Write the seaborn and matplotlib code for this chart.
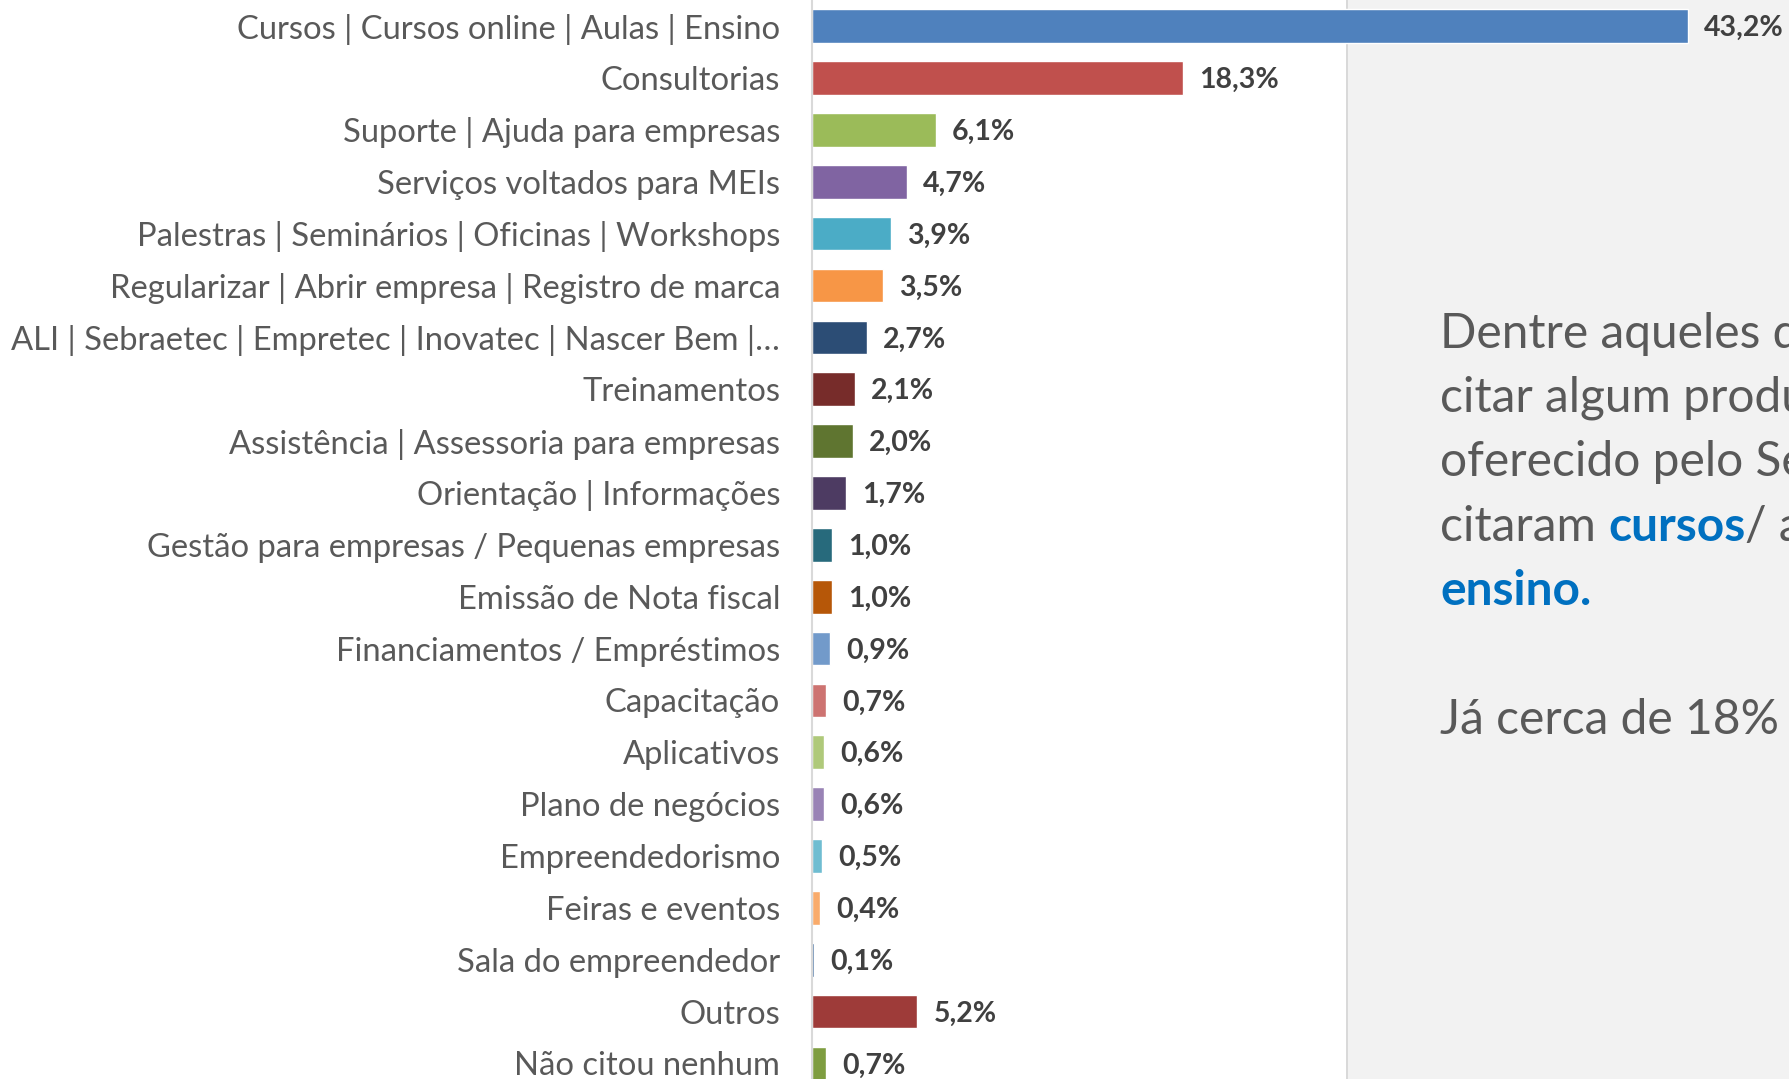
import matplotlib
matplotlib.use("Agg")
import matplotlib.pyplot as plt
import seaborn as sns
import pandas as pd
from matplotlib.patches import Rectangle

# data
categories = [
    "Cursos | Cursos online | Aulas | Ensino",
    "Consultorias",
    "Suporte | Ajuda para empresas",
    "Serviços voltados para MEIs",
    "Palestras | Seminários | Oficinas | Workshops",
    "Regularizar | Abrir empresa | Registro de marca",
    "ALI | Sebraetec | Empretec | Inovatec | Nascer Bem |…",
    "Treinamentos",
    "Assistência | Assessoria para empresas",
    "Orientação | Informações",
    "Gestão para empresas / Pequenas empresas",
    "Emissão de Nota fiscal",
    "Financiamentos / Empréstimos",
    "Capacitação",
    "Aplicativos",
    "Plano de negócios",
    "Empreendedorismo",
    "Feiras e eventos",
    "Sala do empreendedor",
    "Outros",
    "Não citou nenhum",
]
values = [43.2, 18.3, 6.1, 4.7, 3.9, 3.5, 2.7, 2.1, 2.0, 1.7, 1.0, 1.0,
          0.9, 0.7, 0.6, 0.6, 0.5, 0.4, 0.1, 5.2, 0.7]
colors = ["#4F81BD", "#C0504D", "#9BBB59", "#8064A2", "#4BACC6", "#F79646",
          "#2C4D75", "#772C2A", "#5F7530", "#4D3B62", "#276A7C", "#B65708",
          "#729ACA", "#CD7371", "#AFC97A", "#9983B5", "#6FBDD1", "#F9AB6B",
          "#3A679C", "#9E3B39", "#7E9D40"]

sns.set_style("white")
plt.rcParams['font.family'] = ['Lato', 'DejaVu Sans']

df = pd.DataFrame({"cat": categories, "val": values})

W, H = 1789, 1079
fig = plt.figure(figsize=(W / 100, H / 100), dpi=100)
fig.patch.set_facecolor("white")

# grey side panel behind the chart
fig.add_artist(Rectangle((1346 / W, 0), 1 - 1346 / W, 1, transform=fig.transFigure,
                         facecolor="#F2F2F2", edgecolor="none", zorder=-2))
fig.add_artist(Rectangle((1346 / W, 0), 2 / W, 1, transform=fig.transFigure,
                         facecolor="#D9D9D9", edgecolor="none", zorder=-1))

row = 51.86
top = 26.2 - row / 2
ax = fig.add_axes([812 / W, 1 - (top + 21 * row) / H, 1 - 812 / W, 21 * row / H])
ax.patch.set_visible(False)

sns.barplot(data=df, y="cat", x="val", hue="cat", palette=colors, legend=False,
            orient="h", width=0.65, saturation=1, ax=ax)

px_per_unit = (1688 - 812) / 43.2
ax.set_xlim(0, (W - 812) / px_per_unit)
ax.set_ylim(20.5, -0.5)

for i, v in enumerate(values):
    ax.annotate(f"{v:.1f}".replace(".", ",") + "%", (v, i), xytext=(11.5, -1.5),
                textcoords="offset points", va="center", ha="left",
                fontsize=20.5, fontweight="bold", color="#404040")

ax.set_xlabel("")
ax.set_ylabel("")
ax.set_xticks([])
ax.tick_params(axis="y", length=0, pad=23, labelsize=23.6, labelcolor="#595959")
for s in ["top", "right", "bottom"]:
    ax.spines[s].set_visible(False)
ax.spines["left"].set_color("#D9D9D9")
ax.spines["left"].set_linewidth(1.5)

# side commentary (runs off the right edge as in the original)
grey = "#595959"
blue = "#0070C0"
fs = 34.5
x0 = 1440
lines = [
    [("Dentre aqueles que conseguiram", grey, "normal")],
    [("citar algum produto ou serviço", grey, "normal")],
    [("oferecido pelo Sebrae, 43%", grey, "normal")],
    [("citaram ", grey, "normal"), ("cursos", blue, "bold"), ("/ aulas/", grey, "normal")],
    [("ensino.", blue, "bold")],
    [],
    [("Já cerca de 18% citaram consultorias.", grey, "normal")],
]
base = 347
step = 64.5
fig.canvas.draw()
renderer = fig.canvas.get_renderer()
for k, parts in enumerate(lines):
    x = x0
    y = 1 - (base + k * step) / H
    for txt, col, wt in parts:
        t = fig.text(x / W, y, txt, color=col, fontweight=wt, fontsize=fs,
                     va="baseline", ha="left")
        x = t.get_window_extent(renderer).x1

fig.savefig("out.png", dpi=100)
